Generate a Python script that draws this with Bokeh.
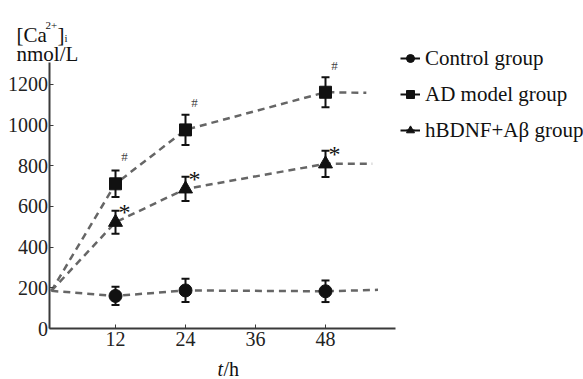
import math
from bokeh.plotting import figure
from bokeh.models import (ColumnDataSource, Whisker, TeeHead, Legend, LegendItem,
                          Label, Range1d, FixedTicker, LinearAxis)
from bokeh.core.properties import value
from bokeh.embed import file_html
from bokeh.resources import INLINE

# ---- data ----
hours = [12, 24, 48]
start_hour = 1
start_value = 185
control_mean = [160, 187, 183]
control_err = [45, 57, 53]
ad_mean = [711, 976, 1161]
ad_err = [65, 74, 74]
hbdnf_mean = [522, 686, 809]
hbdnf_err = [57, 60, 65]
end_hours = [57, 55, 56]          # control, AD, hBDNF line ends
end_values = [190, 1158, 809]
series_names = ["Control group", "AD model group", "hBDNF+A\u03b2 group"]
x_ticks = [12, 24, 36, 48]
y_ticks = [0, 200, 400, 600, 800, 1000, 1200]
x_axis_span = (0.6, 60)
y_axis_span = (0, 1307)

FONT = "Times"
LINE_C = "#666666"
MARK_C = "#111111"
AX_C = "#3a3a3a"

p = figure(width=583, height=379, output_backend="svg", toolbar_location=None,
           x_range=Range1d(-7.715, 92.23), y_range=Range1d(-250.6, 1611.8),
           x_axis_location=None, y_axis_location=None, min_border=0)
p.grid.visible = False
p.outline_line_color = None
p.background_fill_color = "white"

xax = LinearAxis(fixed_location=0, bounds=x_axis_span, ticker=FixedTicker(ticks=x_ticks))
yax = LinearAxis(fixed_location=x_axis_span[0], bounds=y_axis_span,
                 ticker=FixedTicker(ticks=y_ticks))
for ax in (xax, yax):
    ax.axis_line_width = 2
    ax.axis_line_color = AX_C
    ax.major_tick_in = 4
    ax.major_tick_out = 0
    ax.major_tick_line_color = AX_C
    ax.minor_tick_line_color = None
    ax.major_label_text_font = FONT
    ax.major_label_text_font_size = "20px"
    ax.major_label_text_font_style = "normal"
    ax.major_label_text_color = "#222222"
xax.major_label_standoff = 3
yax.major_label_standoff = 1
p.add_layout(xax, "below")
p.add_layout(yax, "left")

means = [control_mean, ad_mean, hbdnf_mean]
errs = [control_err, ad_err, hbdnf_err]
markers = ["circle", "square", "triangle"]
msizes = [13, 12, 14]

legend_items = []
for i in range(3):
    lx = [start_hour] + hours + [end_hours[i]]
    ly = [start_value] + means[i] + [end_values[i]]
    p.line(lx, ly, line_color=LINE_C, line_width=2.5, line_dash="7 5")
    src = ColumnDataSource(dict(x=hours, y=means[i],
                                upper=[m + e for m, e in zip(means[i], errs[i])],
                                lower=[m - e for m, e in zip(means[i], errs[i])]))
    w = Whisker(source=src, base="x", upper="upper", lower="lower", dimension="height",
                line_color=MARK_C, line_width=2,
                upper_head=TeeHead(size=8, line_color=MARK_C, line_width=2),
                lower_head=TeeHead(size=8, line_color=MARK_C, line_width=2))
    p.add_layout(w)
    p.scatter("x", "y", source=src, marker=markers[i], size=msizes[i],
              fill_color=MARK_C, line_color=MARK_C)
    # legend-only glyphs
    lsrc = ColumnDataSource(dict(x=[math.nan], y=[math.nan]))
    r1 = p.line("x", "y", source=lsrc, line_color=MARK_C, line_width=2)
    r2 = p.scatter("x", "y", source=lsrc, marker="dash", angle=math.pi / 2, size=26,
                   line_color=MARK_C, line_width=2)
    r3 = p.scatter("x", "y", source=lsrc, marker=markers[i], size=msizes[i] - 1,
                   fill_color=MARK_C, line_color=MARK_C)
    legend_items.append(LegendItem(label=series_names[i], renderers=[r1, r2, r3]))

# significance marks
hash_src = ColumnDataSource(dict(x=hours, y=ad_mean, t=["#"] * 3))
p.text("x", "y", text="t", source=hash_src, x_offset=9, y_offset=-27,
       text_font=value(FONT), text_font_size="13px", text_color="#444444",
       text_align="center", text_baseline="alphabetic")
star_src = ColumnDataSource(dict(x=hours, y=hbdnf_mean, t=["*"] * 3))
p.text("x", "y", text="t", source=star_src, x_offset=9, y_offset=-10,
       text_font=value(FONT), text_font_size="24px", text_color="#111111",
       text_align="center", text_baseline="alphabetic")

legend = Legend(items=legend_items, location=(400, 234), orientation="vertical",
                label_text_font=FONT, label_text_font_size="21px",
                label_text_color="#111111", label_height=30, glyph_height=30,
                glyph_width=20, label_standoff=5, spacing=6, padding=0, margin=0,
                border_line_color=None, background_fill_alpha=0)
p.add_layout(legend)

def lab(text, x, y, size="21px", style="normal", color="#111111", baseline="alphabetic"):
    p.add_layout(Label(x=x, y=y, x_units="screen", y_units="screen", text=text,
                       text_font=FONT, text_font_size=size, text_font_style=style,
                       text_color=color, text_baseline=baseline))

lab("[Ca", 16, 345)
lab("2+", 45, 354, size="11px")
lab("]", 57, 345)
lab("i", 64, 342, size="11px")
lab("nmol/L", 16, 326)
lab("t", 217, 22, size="20px", style="italic", baseline="top")
lab("/h", 223, 22, size="20px", baseline="top")

open("out.html", "w").write(file_html(p, INLINE))
